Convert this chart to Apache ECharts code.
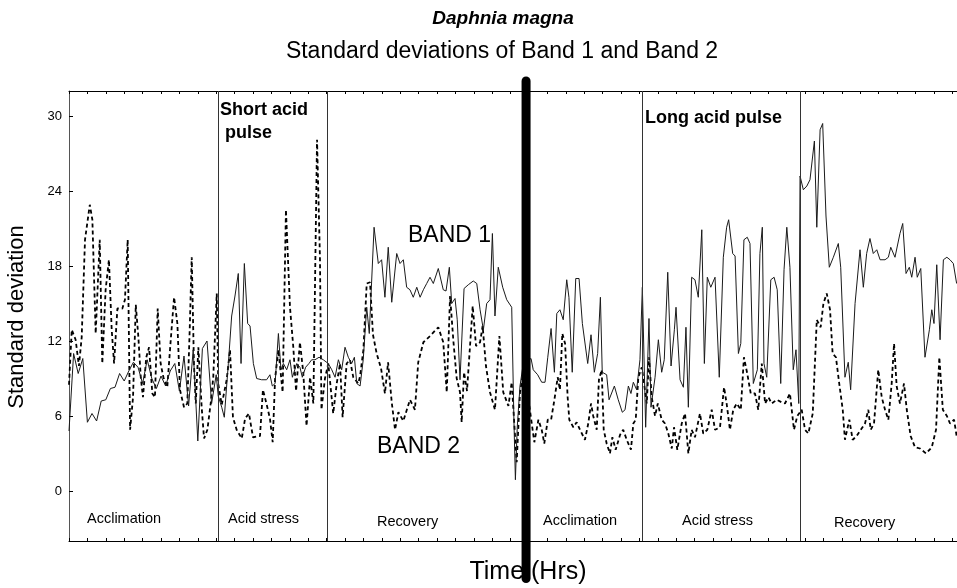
<!DOCTYPE html>
<html>
<head>
<meta charset="utf-8">
<script src="https://cdn.jsdelivr.net/npm/echarts@6.0.0/dist/echarts.min.js"></script>
<style>
html,body{margin:0;padding:0;background:#fff;}
#chart{width:957px;height:588px;}
</style>
</head>
<body>
<div id="chart"></div>
<script>
// ---- data (hours, standard deviation) ----
const band1Exp1 = [
[0.00,4.8],[0.25,11.0],[0.50,9.4],[0.75,10.6],[1.00,5.5],[1.25,6.2],[1.50,5.6],[1.75,7.2],[2.00,7.3],[2.25,8.2],[2.50,8.3],[2.75,9.4],[3.00,8.8],[3.25,9.6],[3.50,10.3],[3.75,9.9],[4.00,8.6],[4.25,10.5],[4.50,9.0],[4.75,8.2],[5.00,9.2],[5.25,8.4],[5.50,9.6],[5.75,10.2],[6.00,8.0],[6.25,10.8],[6.50,6.8],[6.75,11.3],[7.00,4.0],[7.25,11.4],[7.50,12.0],[7.75,7.0],[8.00,9.3],
[8.11,7.6],[8.30,6.7],[8.44,5.9],[8.66,10.2],[8.84,14.0],[9.02,15.6],[9.20,17.4],[9.35,10.2],[9.53,18.2],[9.71,13.4],[9.84,13.2],[10.02,10.2],[10.20,9.0],[10.47,8.9],[10.74,8.9],[10.92,9.3],[11.05,8.4],[11.20,8.6],[11.38,12.6],[11.52,9.7],[11.65,10.2],[11.83,9.7],[12.01,10.5],[12.14,9.1],[12.38,10.2],[12.55,9.9],[12.68,9.1],[12.86,9.9],[13.04,10.2],[13.19,10.5],[13.37,10.5],[13.59,10.7],[13.82,10.5],[14.09,10.2],[14.28,9.7],[14.46,9.1],[14.64,10.5],[14.82,9.7],[15.00,11.5],[15.18,10.7],[15.36,10.2],[15.51,10.7],[15.64,8.6],[15.82,8.4],[15.99,10.5],[16.18,14.7],[16.32,12.6],[16.58,21.1],[16.81,18.2],[16.99,18.5],[17.17,15.5],[17.35,19.5],[17.54,15.1],[17.81,19.0],[17.99,18.2],[18.17,18.5],[18.35,16.3],[18.53,16.1],[18.71,15.5],[18.90,16.3],[19.08,15.5],[19.26,16.1],[19.44,16.6],[19.62,17.1],[19.80,16.6],[20.07,17.8],[20.34,16.1],[20.49,16.0],[20.67,17.9],[20.80,15.0],[20.98,15.4],[21.10,13.7],[21.25,8.9],[21.47,16.2],[21.70,16.5],[21.97,16.8],[22.16,16.6],[22.34,14.5],[22.52,12.9],[22.70,15.0],[22.88,15.3],[23.01,20.6],[23.15,14.0],[23.33,17.9],[23.57,16.3],[23.79,15.3],[24.06,14.7],[24.18,5.7],[24.26,0.9],[24.36,5.1],[24.51,8.4],[24.69,10.2]
];
const band1Exp2 = [
[25.11,10.6],[25.23,9.7],[25.47,9.3],[25.69,8.7],[25.87,8.7],[26.02,10.7],[26.20,13.0],[26.38,9.5],[26.51,14.2],[26.68,14.5],[26.86,13.7],[27.05,16.9],[27.17,15.5],[27.35,9.5],[27.54,17.0],[27.72,17.0],[27.90,13.4],[28.19,10.2],[28.37,12.5],[28.55,9.5],[28.73,11.0],[28.88,15.5],[28.98,9.5],[29.22,9.3],[29.35,7.3],[29.64,8.4],[29.85,7.3],[30.07,6.3],[30.22,6.5],[30.40,8.4],[30.54,7.8],[30.67,8.7],[30.85,8.1],[31.03,10.5],[31.16,16.3],[31.34,5.1],[31.52,13.8],[31.63,6.7],[31.85,9.1],[32.03,12.1],[32.21,9.5],[32.35,10.5],[32.54,17.5],[32.72,10.0],[32.90,12.9],[32.99,14.7],[33.21,8.9],[33.39,8.3],[33.53,13.1],[33.66,6.7],[33.84,17.1],[34.02,16.9],[34.20,15.5],[34.39,20.9],[34.53,10.2],[34.69,17.1],[34.88,16.3],[35.11,17.1],[35.34,9.1],[35.56,18.7],[35.74,21.1],[35.85,21.7],[36.07,19.0],[36.20,18.8],[36.38,11.0],[36.51,11.8],[36.68,20.1],[36.86,20.3],[37.01,19.8],[37.19,8.6],[37.41,9.7],[37.55,19.0],[37.68,21.1],[37.77,10.2],[37.92,9.1],[38.14,16.9],[38.32,17.1],[38.49,16.1],[38.68,8.6],[38.86,17.7],[39.01,21.1],[39.18,17.9],[39.36,9.7],[39.51,11.3],[39.66,7.0],[39.73,25.2],[39.91,24.1],[40.10,24.4],[40.27,24.9],[40.51,28.0],[40.64,21.1],[40.82,28.9],[40.96,29.4],[41.14,22.0],[41.32,17.9],[41.54,18.7],[41.81,19.8],[41.94,17.9],[42.17,9.1],[42.35,10.3],[42.48,8.1],[42.72,15.0],[42.99,19.3],[43.17,16.3],[43.35,19.0],[43.53,20.2],[43.71,19.0],[43.90,19.3],[44.08,18.5],[44.35,18.5],[44.53,18.7],[44.66,19.5],[44.89,18.7],[45.16,20.6],[45.31,21.4],[45.49,17.4],[45.67,17.9],[45.80,17.1],[45.98,18.7],[46.10,17.1],[46.29,17.8],[46.52,10.7],[46.76,12.9],[46.89,14.5],[47.01,13.4],[47.16,18.1],[47.34,12.1],[47.52,18.5],[47.71,18.7],[47.88,18.5],[48.06,18.2],[48.24,16.6]
];
const band2Exp1 = [
[0.00,8.5],[0.15,12.9],[0.36,12.1],[0.54,10.0],[0.69,12.3],[0.87,20.1],[1.13,22.9],[1.27,21.7],[1.45,12.6],[1.67,20.1],[1.81,10.2],[1.99,16.1],[2.17,18.5],[2.32,12.9],[2.45,10.2],[2.63,14.6],[2.90,14.6],[3.04,15.3],[3.19,20.1],[3.32,4.9],[3.48,7.5],[3.63,14.9],[3.77,12.3],[3.90,9.1],[4.02,7.5],[4.20,10.7],[4.35,11.5],[4.53,7.8],[4.67,7.5],[4.82,14.6],[4.98,10.2],[5.13,9.1],[5.34,8.3],[5.53,12.1],[5.71,15.5],[5.89,13.4],[6.03,8.1],[6.25,6.7],[6.43,7.0],[6.56,12.9],[6.67,18.7],[6.79,10.2],[6.89,7.0],[7.03,11.5],[7.21,6.7],[7.34,4.2],[7.52,4.9],[7.70,7.0],[7.84,9.1],[8.03,15.8],
[8.11,8.6],[8.30,6.9],[8.57,8.9],[8.75,11.3],[8.91,5.9],[9.11,4.9],[9.39,4.2],[9.57,5.8],[9.78,6.2],[10.00,4.3],[10.38,4.4],[10.54,8.1],[10.73,7.0],[10.92,5.8],[11.07,3.9],[11.20,9.0],[11.38,11.3],[11.61,7.9],[11.79,22.5],[12.01,14.7],[12.19,11.5],[12.34,8.0],[12.55,11.9],[12.73,9.5],[12.91,5.2],[13.10,9.1],[13.28,7.0],[13.48,28.1],[13.64,18.5],[13.72,6.5],[13.91,9.0],[14.09,10.2],[14.36,6.2],[14.55,8.6],[14.73,10.2],[14.87,5.9],[15.09,10.2],[15.27,10.5],[15.45,9.1],[15.72,8.6],
[15.82,9.2],[16.00,11.3],[16.18,16.6],[16.36,16.7],[16.52,12.5],[16.72,11.0],[16.96,9.8],[17.17,7.8],[17.34,10.3],[17.54,7.1],[17.72,4.9],[17.90,6.3],[18.17,5.6],[18.53,7.3],[18.80,6.5],[18.98,10.3],[19.26,11.9],[19.62,12.4],[20.07,13.1],[20.34,11.9],[20.53,7.9],[20.71,15.6],[20.89,12.0],[21.07,9.0],[21.25,7.9],[21.34,5.5],[21.47,9.5],[21.63,8.0],[21.94,14.8],[22.12,11.6],[22.34,11.9],[22.48,13.2],[22.66,10.0],[22.88,7.9],[23.15,6.5],[23.39,12.4],[23.60,7.9],[23.88,6.8],[24.06,8.7],[24.33,2.3],[24.51,7.9],[24.69,9.5]
];
const band2Exp2 = [
[25.00,7.0],[25.29,3.9],[25.51,5.7],[25.69,4.9],[25.83,3.8],[26.02,5.7],[26.20,5.7],[26.38,7.3],[26.56,9.1],[26.68,8.1],[26.81,12.6],[26.96,11.8],[27.10,7.5],[27.19,5.7],[27.41,5.1],[27.59,5.5],[27.77,4.9],[28.04,4.1],[28.22,5.4],[28.37,7.0],[28.49,6.0],[28.68,4.9],[28.80,8.9],[28.95,9.7],[29.06,4.9],[29.22,3.8],[29.40,3.0],[29.53,4.3],[29.71,3.3],[29.95,4.5],[30.12,4.9],[30.31,4.1],[30.54,3.3],[30.67,5.4],[30.80,5.7],[30.94,9.1],[31.13,9.9],[31.27,8.4],[31.40,7.0],[31.52,10.7],[31.67,7.5],[31.85,6.0],[32.00,7.0],[32.21,5.7],[32.39,5.4],[32.57,4.6],[32.76,3.4],[32.88,5.1],[33.06,3.3],[33.30,5.4],[33.48,6.2],[33.66,3.0],[33.84,4.9],[34.02,4.3],[34.29,6.2],[34.47,4.6],[34.69,4.9],[34.93,6.5],[35.11,4.9],[35.38,5.1],[35.60,8.3],[35.74,7.0],[35.92,4.9],[36.10,6.5],[36.29,7.0],[36.51,6.5],[36.68,10.7],[36.86,9.4],[37.05,7.8],[37.28,7.8],[37.46,6.5],[37.65,10.2],[37.83,7.0],[38.01,7.5],[38.19,7.0],[38.46,7.3],[38.73,7.1],[38.91,7.0],[39.18,7.8],[39.40,4.9],[39.58,6.0],[39.82,6.5],[40.00,4.9],[40.18,4.6],[40.42,6.2],[40.64,13.7],[40.85,13.1],[41.00,15.0],[41.18,15.8],[41.36,14.5],[41.50,11.0],[41.68,10.7],[41.86,8.6],[42.05,6.5],[42.17,4.1],[42.41,5.7],[42.59,4.1],[42.81,4.4],[43.03,4.9],[43.26,5.4],[43.44,6.5],[43.57,4.9],[43.75,5.4],[43.98,9.7],[44.17,7.5],[44.35,6.5],[44.53,5.7],[44.71,8.6],[44.84,11.8],[44.98,8.4],[45.16,7.0],[45.38,8.6],[45.53,6.5],[45.74,4.4],[45.98,3.5],[46.25,3.4],[46.58,3.0],[46.89,3.5],[47.12,4.9],[47.30,10.7],[47.49,6.5],[47.71,6.0],[47.88,5.4],[48.10,5.7],[48.24,4.4]
];
const phaseBoundaries = [8.10, 14.02, 31.14, 39.73];   // hours
const experimentSplit = 24.84;                          // hours
const splitExtent = [32.8, -7.0];                       // value range of the thick divider
const yTickValues = [0, 6, 12, 18, 24, 30];
const phaseLabels = ['Acclimation', 'Acid stress', 'Recovery', 'Acclimation', 'Acid stress', 'Recovery'];

const FONT = '"Liberation Sans", Arial, Helvetica, sans-serif';
const chart = echarts.init(document.getElementById('chart'), null, {renderer: 'canvas'});

const phasePos = [[87,519],[228,519],[377,522],[543,521],[682,521],[834,523]];
const graphics = [
  {type:'text', x:503, y:19, style:{text:'Daphnia magna', font:'italic bold 19px ' + FONT, fill:'#000', align:'center', verticalAlign:'middle'}},
  {type:'text', x:502, y:52, style:{text:'Standard deviations of Band 1 and Band 2', font:'23px ' + FONT, fill:'#000', align:'center', verticalAlign:'middle'}},
  {type:'text', x:528, y:572, style:{text:'Time (Hrs)', font:'25px ' + FONT, fill:'#000', align:'center', verticalAlign:'middle'}},
  {type:'text', x:17, y:317, rotation:Math.PI/2, style:{text:'Standard deviation', font:'22px ' + FONT, fill:'#000', align:'center', verticalAlign:'middle'}},
  {type:'text', x:220, y:110, style:{text:'Short acid', font:'bold 18px ' + FONT, fill:'#000', align:'left', verticalAlign:'middle'}},
  {type:'text', x:225, y:133, style:{text:'pulse', font:'bold 18px ' + FONT, fill:'#000', align:'left', verticalAlign:'middle'}},
  {type:'text', x:645, y:118, style:{text:'Long acid pulse', font:'bold 18px ' + FONT, fill:'#000', align:'left', verticalAlign:'middle'}},
  {type:'text', x:408, y:236, style:{text:'BAND 1', font:'23px ' + FONT, fill:'#000', align:'left', verticalAlign:'middle'}},
  {type:'text', x:377, y:447, style:{text:'BAND 2', font:'23px ' + FONT, fill:'#000', align:'left', verticalAlign:'middle'}}
];
phaseLabels.forEach((t, i) => {
  graphics.push({type:'text', x:phasePos[i][0], y:phasePos[i][1], style:{text:t, font:'14.5px ' + FONT, fill:'#000', align:'left', verticalAlign:'middle'}});
});

const xAxisBase = {
  type:'value', min:0, max:48.26, interval:1,
  axisLine:{show:true, onZero:false, lineStyle:{color:'#000', width:1}},
  axisTick:{show:true, inside:true, length:3, lineStyle:{color:'#000', width:1}},
  axisLabel:{show:false}, splitLine:{show:false}
};

chart.setOption({
  animation:false,
  backgroundColor:'#fff',
  grid:{left:69, right:0, top:91, bottom:47, containLabel:false},
  xAxis:[Object.assign({position:'bottom'}, xAxisBase), Object.assign({position:'top'}, xAxisBase)],
  yAxis:[{
    type:'value', min:-4, max:32, position:'left',
    axisLine:{show:true, onZero:false, lineStyle:{color:'#555', width:1}},
    axisTick:{show:true, inside:true, length:4, customValues:yTickValues, lineStyle:{color:'#000'}},
    axisLabel:{show:true, customValues:yTickValues, fontSize:13, color:'#000', margin:7, fontFamily:FONT},
    splitLine:{show:false}
  }],
  graphic:graphics,
  series:[
    {
      name:'BAND 1', type:'line', data:band1Exp1.concat(band1Exp2),
      showSymbol:false, symbol:'none', z:3,
      lineStyle:{color:'#1a1a1a', width:1},
      markLine:{
        silent:true, symbol:['none','none'], label:{show:false}, animation:false,
        lineStyle:{color:'#333', width:1, type:'solid'},
        emphasis:{disabled:true},
        data:phaseBoundaries.map(v => ({xAxis:v}))
      }
    },
    {
      name:'BAND 2', type:'line', data:band2Exp1.concat(band2Exp2),
      showSymbol:false, symbol:'none', z:2,
      lineStyle:{color:'#000', width:1.8, type:[4,3]}
    },
    {
      type:'custom', z:10, clip:false, silent:true,
      data:[[experimentSplit, splitExtent[0], splitExtent[1]]],
      renderItem:function(params, api){
        const p1 = api.coord([api.value(0), api.value(1)]);
        const p2 = api.coord([api.value(0), api.value(2)]);
        return {type:'line', shape:{x1:p1[0], y1:p1[1], x2:p2[0], y2:p2[1]},
                style:{stroke:'#000', lineWidth:9, lineCap:'round'}};
      }
    }
  ]
});
</script>
</body>
</html>
